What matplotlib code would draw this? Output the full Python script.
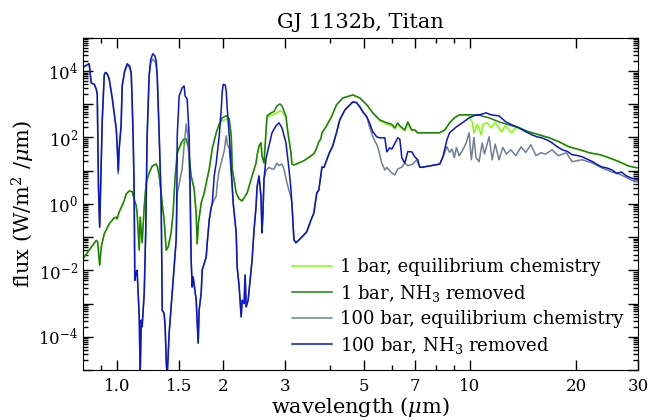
"""GJ 1132b, Titan: emission spectra for 1 bar / 100 bar, with and without NH3."""

import numpy as np
import matplotlib
matplotlib.use("Agg")
import matplotlib.pyplot as plt
from matplotlib.ticker import FixedLocator, FixedFormatter, LogLocator, FuncFormatter, NullFormatter

plt.rcParams["font.family"] = "DejaVu Serif"
plt.rcParams["mathtext.fontset"] = "dejavuserif"

# --- spectra: wavelength (um), log10 flux (W/m^2/um) ---
wl_eq1 = [0.796, 0.833, 0.872, 0.880, 0.892, 0.901, 0.919, 0.949, 0.981, 0.994, 1.000, 1.013,
          1.033, 1.047, 1.061, 1.082, 1.103, 1.117, 1.132, 1.139, 1.155, 1.162, 1.177, 1.193,
          1.208, 1.232, 1.257, 1.290, 1.299, 1.316, 1.333, 1.342, 1.359, 1.377, 1.395, 1.422,
          1.440, 1.460, 1.480, 1.518, 1.548, 1.569, 1.589, 1.621, 1.653, 1.675, 1.686, 1.700,
          1.731, 1.765, 1.824, 1.860, 1.909, 1.947, 1.986, 2.038, 2.079, 2.106, 2.120, 2.175,
          2.218, 2.261, 2.336, 2.413, 2.476, 2.492, 2.525, 2.558, 2.574, 2.608, 2.642, 2.660,
          2.730, 2.784, 2.839, 2.895, 2.933, 3.010, 3.049, 3.110, 3.130, 3.171, 3.385, 3.612,
          3.681, 3.731, 3.781, 3.808, 3.910, 4.050, 4.186, 4.365, 4.566, 4.660, 4.876, 5.105,
          5.307, 5.554, 5.815, 6.000, 6.128, 6.248, 6.330, 6.539, 6.667, 6.842, 6.977, 7.115,
          7.690, 8.220, 8.500, 8.760, 9.040, 9.330, 9.770, 9.950, 10.15, 10.27, 10.50, 10.77,
          10.90, 11.19, 11.50, 11.80, 12.30, 12.60, 13.15, 13.50, 14.06, 14.43, 14.71, 15.70,
          16.80, 17.90, 19.10, 20.50, 21.80, 23.40, 24.80, 26.50, 28.20, 30.00]
lf_eq1 = [-1.69, -1.39, -1.10, -1.14, -1.84, -1.30, -0.90, -0.60, -0.42, -0.40, -0.45, -0.24,
          -0.05, 0.10, 0.30, 0.39, 0.37, 0.15, -0.05, -0.27, -1.39, -0.40, -1.17, -0.10,
          0.63, 0.93, 1.14, 1.20, 1.14, 0.84, 0.33, 0.00, -0.48, -1.39, -1.30, -0.87,
          -0.30, 0.80, 1.50, 1.78, 1.85, 1.88, 1.72, 0.84, 0.45, -0.30, -1.20, -0.57,
          0.03, 0.33, 1.05, 1.66, 2.14, 2.38, 2.50, 2.55, 2.50, 2.05, 1.05, 0.33,
          0.15, 0.09, 0.33, 0.84, 1.23, 1.45, 1.75, 1.84, 1.45, 1.23, 2.14, 2.60,
          2.68, 2.70, 2.75, 2.80, 2.78, 2.60, 2.14, 1.54, 1.20, 1.17, 1.30, 1.51,
          1.69, 1.87, 1.96, 2.14, 2.32, 2.62, 2.98, 3.19, 3.25, 3.28, 3.19, 2.98,
          2.74, 2.50, 2.40, 2.36, 2.26, 2.40, 2.32, 2.20, 2.42, 2.20, 2.21, 2.14,
          2.14, 2.14, 2.23, 2.44, 2.59, 2.68, 2.68, 2.65, 2.47, 2.14, 2.40, 2.08,
          2.40, 2.44, 2.30, 2.45, 2.17, 2.35, 2.14, 2.30, 2.23, 2.17, 2.17, 2.08,
          1.99, 1.87, 1.72, 1.63, 1.54, 1.48, 1.39, 1.27, 1.14, 1.08]

wl_noNH3_1 = [0.796, 0.833, 0.872, 0.880, 0.892, 0.901, 0.919, 0.949, 0.981, 0.994, 1.000, 1.013,
              1.033, 1.047, 1.061, 1.082, 1.103, 1.117, 1.132, 1.139, 1.155, 1.162, 1.177, 1.193,
              1.208, 1.232, 1.257, 1.290, 1.299, 1.316, 1.333, 1.342, 1.359, 1.377, 1.395, 1.422,
              1.440, 1.460, 1.480, 1.518, 1.548, 1.569, 1.589, 1.621, 1.653, 1.675, 1.686, 1.700,
              1.731, 1.765, 1.824, 1.860, 1.909, 1.947, 1.986, 2.038, 2.079, 2.106, 2.120, 2.175,
              2.218, 2.261, 2.336, 2.413, 2.476, 2.492, 2.525, 2.558, 2.574, 2.608, 2.642, 2.660,
              2.730, 2.784, 2.839, 2.895, 2.933, 3.010, 3.049, 3.110, 3.130, 3.171, 3.385, 3.612,
              3.681, 3.731, 3.781, 3.808, 3.910, 4.050, 4.186, 4.365, 4.566, 4.660, 4.876, 5.105,
              5.307, 5.554, 5.815, 6.000, 6.128, 6.248, 6.330, 6.539, 6.667, 6.842, 6.977, 7.115,
              7.690, 8.220, 8.500, 8.760, 9.040, 9.330, 9.770, 10.15, 10.62, 11.34, 12.10, 12.90,
              13.80, 14.71, 15.70, 16.80, 17.90, 19.10, 20.50, 21.80, 23.40, 24.80, 26.50, 28.20,
              30.00]
lf_noNH3_1 = [-1.69, -1.39, -1.10, -1.14, -1.84, -1.30, -0.90, -0.60, -0.42, -0.40, -0.45, -0.24,
              -0.05, 0.10, 0.30, 0.39, 0.37, 0.15, -0.05, -0.27, -1.39, -0.40, -1.17, -0.10,
              0.63, 0.93, 1.14, 1.20, 1.14, 0.84, 0.33, 0.00, -0.48, -1.39, -1.30, -0.87,
              -0.30, 0.80, 1.54, 1.84, 1.96, 1.96, 1.75, 0.84, 0.45, -0.30, -1.20, -0.57,
              0.03, 0.33, 1.05, 1.66, 2.14, 2.41, 2.59, 2.65, 2.56, 2.05, 1.05, 0.33,
              0.15, 0.09, 0.33, 0.84, 1.23, 1.45, 1.75, 1.84, 1.45, 1.23, 2.14, 2.65,
              2.74, 2.78, 2.95, 3.01, 2.95, 2.65, 2.14, 1.54, 1.20, 1.17, 1.30, 1.51,
              1.69, 1.87, 1.96, 2.14, 2.32, 2.62, 2.98, 3.19, 3.25, 3.28, 3.19, 2.98,
              2.74, 2.53, 2.44, 2.40, 2.29, 2.44, 2.35, 2.23, 2.47, 2.23, 2.23, 2.14,
              2.14, 2.14, 2.23, 2.44, 2.59, 2.68, 2.68, 2.68, 2.67, 2.59, 2.47, 2.38,
              2.29, 2.17, 2.08, 1.99, 1.87, 1.72, 1.63, 1.54, 1.48, 1.39, 1.27, 1.14,
              1.08]

wl_eq100 = [0.796, 0.833, 0.844, 0.861, 0.872, 0.878, 0.885, 0.892, 0.900, 0.907, 0.919, 0.925,
            0.931, 0.940, 0.949, 0.968, 0.994, 1.000, 1.007, 1.013, 1.026, 1.033, 1.050, 1.068,
            1.085, 1.096, 1.103, 1.110, 1.117, 1.122, 1.132, 1.139, 1.155, 1.162, 1.170, 1.177,
            1.193, 1.205, 1.216, 1.232, 1.245, 1.262, 1.280, 1.290, 1.299, 1.316, 1.333, 1.342,
            1.359, 1.368, 1.377, 1.386, 1.404, 1.432, 1.470, 1.480, 1.528, 1.548, 1.569, 1.589,
            1.600, 1.610, 1.621, 1.632, 1.642, 1.675, 1.697, 1.708, 1.731, 1.742, 1.788, 1.800,
            1.824, 1.848, 1.860, 1.909, 1.922, 1.947, 1.986, 2.012, 2.038, 2.052, 2.079, 2.106,
            2.134, 2.175, 2.189, 2.218, 2.247, 2.261, 2.290, 2.306, 2.321, 2.351, 2.382, 2.413,
            2.444, 2.476, 2.492, 2.525, 2.558, 2.574, 2.590, 2.608, 2.642, 2.694, 2.748, 2.784,
            2.839, 2.876, 2.933, 2.971, 3.030, 3.110, 3.130, 3.171, 3.212, 3.323, 3.447, 3.546,
            3.612, 3.681, 3.731, 3.808, 3.859, 3.997, 4.078, 4.186, 4.277, 4.423, 4.566, 4.660,
            4.770, 4.876, 4.972, 5.105, 5.194, 5.307, 5.481, 5.628, 5.740, 5.815, 6.009, 6.128,
            6.248, 6.413, 6.539, 6.667, 6.887, 7.069, 7.208, 7.303, 8.220, 8.390, 8.610, 8.760,
            8.900, 9.040, 9.160, 9.330, 9.520, 9.770, 9.950, 10.10, 10.27, 10.41, 10.62, 10.84,
            11.00, 11.34, 11.57, 11.80, 12.10, 12.40, 12.70, 13.07, 13.50, 13.97, 14.40, 14.90,
            15.40, 15.90, 16.40, 17.10, 17.80, 18.77, 19.50, 20.80, 22.30, 23.70, 25.30, 26.90,
            28.70, 30.00]
lf_eq100 = [4.10, 4.22, 3.64, 3.60, 3.46, 3.31, 0.50, -0.70, 1.00, 2.50, 3.88, 3.95,
            3.95, 3.88, 3.77, 3.19, 2.26, 1.75, 0.90, 1.66, 2.35, 3.55, 3.98, 4.18,
            4.10, 3.90, 3.04, 2.00, 0.50, -2.30, -2.05, -2.00, -3.40, -5.20, -3.50, -3.70,
            -2.70, -0.80, 2.05, 3.86, 4.25, 4.36, 4.28, 4.15, 3.80, 2.05, 0.00, -3.20,
            -3.30, -3.70, -4.70, -5.20, -3.89, -2.68, -1.08, 0.30, 1.05, 1.75, 2.41, 2.00,
            1.20, 0.30, -1.69, -2.50, -2.20, -2.89, -4.19, -3.19, -2.68, -1.99, -1.60, -1.18,
            -0.48, -0.10, 0.00, 0.24, 0.63, 1.00, 1.36, 1.60, 2.05, 1.80, 1.66, 0.90,
            0.00, -0.87, -1.90, -2.50, -3.40, -2.90, -3.00, -2.14, -3.10, -2.90, -2.29, -1.69,
            -0.78, -0.09, 0.50, 0.84, 0.20, -0.87, -0.30, 0.75, 1.00, 1.10, 1.05, 1.05,
            1.23, 1.15, 1.20, 1.05, 0.63, 0.20, 0.00, -1.08, -1.17, -1.02, -0.84, -0.48,
            -0.27, 0.33, 0.42, 1.11, 1.10, 1.54, 1.72, 2.14, 2.53, 2.83, 2.98, 3.07,
            3.05, 2.92, 2.77, 2.62, 2.32, 2.02, 1.72, 1.23, 1.02, 1.10, 0.93, 0.87,
            1.05, 1.11, 1.23, 1.15, 1.20, 1.33, 1.11, 1.10, 1.20, 1.42, 1.72, 1.55,
            1.65, 1.39, 1.70, 1.45, 1.60, 1.84, 2.14, 1.33, 2.00, 1.40, 1.27, 1.84,
            1.50, 2.02, 1.33, 1.80, 1.33, 1.70, 1.50, 1.63, 1.45, 1.72, 1.55, 1.78,
            1.45, 1.54, 1.50, 1.63, 1.45, 1.54, 1.27, 1.33, 1.23, 1.08, 0.96, 0.87,
            0.72, 0.66]

wl_noNH3_100 = [0.796, 0.833, 0.844, 0.861, 0.872, 0.878, 0.885, 0.892, 0.900, 0.907, 0.919, 0.925,
                0.931, 0.940, 0.949, 0.968, 0.994, 1.000, 1.007, 1.013, 1.026, 1.033, 1.050, 1.068,
                1.085, 1.096, 1.103, 1.110, 1.117, 1.122, 1.132, 1.139, 1.155, 1.162, 1.170, 1.177,
                1.193, 1.205, 1.216, 1.232, 1.245, 1.262, 1.280, 1.290, 1.299, 1.316, 1.333, 1.342,
                1.359, 1.368, 1.377, 1.386, 1.404, 1.432, 1.470, 1.477, 1.480, 1.499, 1.528, 1.548,
                1.558, 1.579, 1.600, 1.610, 1.621, 1.632, 1.642, 1.675, 1.697, 1.708, 1.731, 1.742,
                1.788, 1.800, 1.824, 1.848, 1.860, 1.884, 1.909, 1.947, 1.973, 1.986, 2.000, 2.025,
                2.038, 2.052, 2.079, 2.106, 2.134, 2.175, 2.189, 2.218, 2.247, 2.261, 2.290, 2.306,
                2.321, 2.351, 2.382, 2.413, 2.444, 2.476, 2.492, 2.525, 2.558, 2.574, 2.590, 2.608,
                2.642, 2.694, 2.748, 2.820, 2.876, 2.933, 3.010, 3.070, 3.110, 3.130, 3.171, 3.212,
                3.323, 3.447, 3.546, 3.612, 3.681, 3.731, 3.808, 3.859, 3.997, 4.078, 4.186, 4.277,
                4.423, 4.566, 4.660, 4.770, 4.876, 4.972, 5.105, 5.194, 5.307, 5.445, 5.554, 5.740,
                5.815, 5.930, 6.009, 6.248, 6.330, 6.413, 6.539, 6.667, 6.842, 6.977, 7.115, 7.208,
                7.303, 8.220, 8.390, 8.610, 8.760, 9.160, 9.520, 9.950, 10.41, 10.62, 11.12, 11.50,
                12.10, 12.65, 13.15, 13.80, 14.43, 14.99, 15.50, 16.00, 16.60, 17.10, 17.70, 18.30,
                18.90, 19.50, 20.10, 20.80, 21.50, 22.30, 23.00, 23.70, 24.50, 25.30, 26.10, 26.90,
                27.80, 28.70, 30.00]
lf_noNH3_100 = [4.10, 4.22, 3.64, 3.60, 3.46, 3.31, 0.50, -0.70, 1.00, 2.50, 3.88, 3.95,
                3.95, 3.88, 3.77, 3.19, 2.26, 1.75, 0.99, 1.66, 2.35, 3.55, 4.00, 4.22,
                4.15, 3.95, 3.04, 2.00, 0.50, -2.30, -2.05, -2.00, -3.40, -5.20, -3.50, -3.70,
                -2.70, -0.80, 2.05, 3.86, 4.35, 4.52, 4.45, 4.30, 3.86, 2.05, 0.00, -3.20,
                -3.30, -3.70, -4.70, -5.20, -3.89, -2.68, -1.08, 0.50, 2.05, 3.25, 3.49, 3.55,
                3.25, 3.16, 2.05, 0.50, -1.69, -2.50, -2.20, -2.89, -4.19, -3.19, -2.68, -1.99,
                -1.60, -1.18, -0.48, -0.10, 0.00, 0.84, 1.23, 2.05, 2.86, 3.40, 3.60, 3.58,
                3.40, 2.86, 2.05, 1.05, 0.00, -0.87, -1.90, -2.50, -3.40, -2.90, -3.00, -2.14,
                -3.10, -2.90, -2.29, -1.69, -0.78, -0.09, 0.50, 0.84, 0.20, -0.87, -0.30, 0.75,
                1.36, 1.75, 2.14, 2.35, 2.44, 2.29, 1.84, 1.05, 0.45, 0.00, -1.08, -1.17,
                -1.02, -0.84, -0.48, -0.27, 0.33, 0.42, 1.11, 1.10, 1.54, 1.72, 2.14, 2.53,
                2.83, 2.98, 3.07, 3.05, 2.92, 2.77, 2.62, 2.44, 2.17, 2.02, 1.99, 1.99,
                1.57, 1.69, 1.65, 1.99, 1.95, 1.39, 1.23, 1.57, 1.57, 1.42, 1.33, 1.11,
                1.10, 1.20, 1.42, 1.93, 2.14, 2.32, 2.44, 2.59, 2.68, 2.68, 2.74, 2.68,
                2.65, 2.47, 2.38, 2.29, 2.17, 2.08, 2.02, 1.99, 1.92, 1.84, 1.72, 1.63,
                1.58, 1.48, 1.46, 1.42, 1.35, 1.27, 1.18, 1.11, 1.08, 1.02, 0.92, 0.96,
                0.84, 0.78, 0.72]

series = [
    ("1 bar, equilibrium chemistry", wl_eq1, lf_eq1, "#7fff00"),
    ("1 bar, NH$_3$ removed", wl_noNH3_1, lf_noNH3_1, "#1c7f0e"),
    ("100 bar, equilibrium chemistry", wl_eq100, lf_eq100, "#708090"),
    ("100 bar, NH$_3$ removed", wl_noNH3_100, lf_noNH3_100, "#0a14cc"),
]

xticks = [1.0, 1.5, 2, 3, 5, 7, 10, 20, 30]
xticklabels = ["1.0", "1.5", "2", "3", "5", "7", "10", "20", "30"]
xminor = [0.9, 4, 6, 8, 9]

fig = plt.figure(figsize=(6.64, 4.20), dpi=100)
ax = fig.add_axes([0.125, 0.119, 0.836, 0.791])

for label, wl, lf, color in series:
    ax.plot(wl, 10.0 ** np.array(lf), color=color, lw=1.1, label=label)

ax.set_xscale("log")
ax.set_yscale("log")
ax.set_xlim(0.8, 30)
ax.set_ylim(1e-5, 1e5)

ax.xaxis.set_major_locator(FixedLocator(xticks))
ax.xaxis.set_major_formatter(FixedFormatter(xticklabels))
ax.xaxis.set_minor_locator(FixedLocator(xminor))
ax.xaxis.set_minor_formatter(NullFormatter())

ax.yaxis.set_major_locator(LogLocator(base=10, numticks=20))
ax.yaxis.set_minor_locator(LogLocator(base=10, subs=np.arange(2, 10), numticks=20))
ax.yaxis.set_major_formatter(FuncFormatter(
    lambda v, p: r"$10^{%d}$" % round(np.log10(v)) if round(np.log10(v)) % 2 == 0 else ""))
ax.yaxis.set_minor_formatter(NullFormatter())

ax.tick_params(which="both", direction="in", top=True, right=True, labelsize=12)
ax.tick_params(which="major", length=7, width=1)
ax.tick_params(which="minor", length=3.5, width=1)
ax.tick_params(axis="x", pad=6)

ax.set_xlabel(r"wavelength ($\mu$m)", fontsize=15, labelpad=0)
ax.set_ylabel(r"flux (W/m$^2$ /$\mu$m)", fontsize=15, labelpad=1)
ax.set_title("GJ 1132b, Titan", fontsize=15, pad=7)

ax.legend(loc="lower right", frameon=False, fontsize=13, handlelength=2.2,
          labelspacing=0.36, borderaxespad=0.4, handletextpad=0.45)

fig.savefig("out.png", dpi=100, facecolor="white")
